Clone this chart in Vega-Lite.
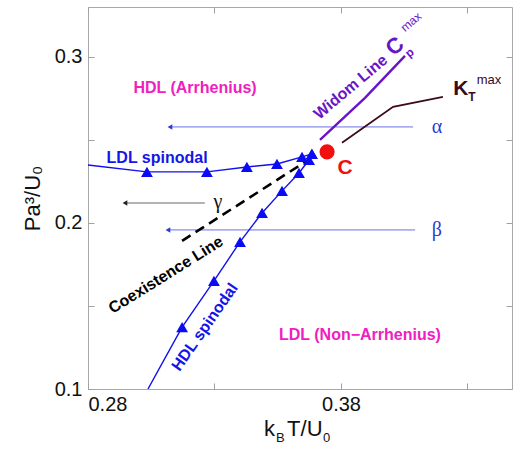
{
  "$schema": "https://vega.github.io/schema/vega-lite/v6.json",
  "width": 424,
  "height": 382,
  "autosize": {"type": "none"},
  "padding": {"left": 88, "top": 7, "right": 2, "bottom": 62},
  "background": "white",
  "config": {
    "view": {"stroke": "#a8a8a8", "strokeWidth": 1},
    "font": "Liberation Sans",
    "axis": {
      "domain": false,
      "grid": false,
      "tickColor": "#a0a0a0",
      "tickSize": -6,
      "tickWidth": 1,
      "labelFont": "Liberation Sans",
      "labelFontSize": 20,
      "labelColor": "#111111",
      "titleFont": "Liberation Sans",
      "titleFontSize": 22,
      "titleFontWeight": "normal",
      "titleColor": "#111111"
    }
  },
  "datasets": {
    "ldl": [
      {"x": 0.28, "y": 0.2349, "kind": "edge"},
      {"x": 0.3033, "y": 0.2307, "kind": "sim"},
      {"x": 0.327, "y": 0.2307, "kind": "sim"},
      {"x": 0.3428, "y": 0.2337, "kind": "sim"},
      {"x": 0.3547, "y": 0.2355, "kind": "sim"},
      {"x": 0.3646, "y": 0.2398, "kind": "sim"},
      {"x": 0.3685, "y": 0.2416, "kind": "sim"}
    ],
    "hdl": [
      {"x": 0.3037, "y": 0.1, "kind": "edge"},
      {"x": 0.3172, "y": 0.1373, "kind": "sim"},
      {"x": 0.3298, "y": 0.1651, "kind": "sim"},
      {"x": 0.3401, "y": 0.1886, "kind": "sim"},
      {"x": 0.3488, "y": 0.206, "kind": "sim"},
      {"x": 0.3567, "y": 0.2193, "kind": "sim"},
      {"x": 0.3634, "y": 0.2301, "kind": "sim"},
      {"x": 0.3674, "y": 0.238, "kind": "sim"},
      {"x": 0.3685, "y": 0.2416, "kind": "sim"}
    ],
    "coexistence": [
      {"x": 0.3172, "y": 0.1892},
      {"x": 0.3658, "y": 0.2367}
    ],
    "widom": [
      {"x": 0.3717, "y": 0.25},
      {"x": 0.3895, "y": 0.2753},
      {"x": 0.4053, "y": 0.3006}
    ],
    "ktmax": [
      {"x": 0.3804, "y": 0.2482},
      {"x": 0.4006, "y": 0.2699},
      {"x": 0.4203, "y": 0.2759}
    ],
    "critical": [
      {"x": 0.3745, "y": 0.2428}
    ],
    "paths": [
      {"path": "alpha", "x": 0.3124, "y": 0.2578, "head": true},
      {"path": "alpha", "x": 0.4085, "y": 0.2578, "head": false},
      {"path": "beta", "x": 0.3116, "y": 0.1958, "head": true},
      {"path": "beta", "x": 0.4093, "y": 0.1958, "head": false},
      {"path": "gamma", "x": 0.2946, "y": 0.212, "head": true},
      {"path": "gamma", "x": 0.3262, "y": 0.212, "head": false}
    ]
  },
  "encoding": {
    "x": {"field": "x", "type": "quantitative", "scale": {"domain": [0.28, 0.4476], "nice": false, "zero": false}, "axis": null},
    "y": {"field": "y", "type": "quantitative", "scale": {"domain": [0.1, 0.33], "nice": false, "zero": false}, "axis": null}
  },
  "resolve": {"axis": {"x": "independent", "y": "independent"}},
  "layer": [
    {
      "data": {"name": "paths"},
      "transform": [{"filter": "datum.path !== 'gamma'"}],
      "mark": {"type": "line", "color": "#a9aef2", "strokeWidth": 1.6},
      "encoding": {"detail": {"field": "path"}}
    },
    {
      "data": {"name": "paths"},
      "transform": [{"filter": "datum.path === 'gamma'"}],
      "mark": {"type": "line", "color": "#666666", "strokeWidth": 1.1},
      "encoding": {}
    },
    {
      "data": {"name": "paths"},
      "transform": [{"filter": "datum.head && datum.path !== 'gamma'"}],
      "mark": {"type": "point", "shape": "triangle-left", "filled": true, "size": 30, "color": "#2a3bd6", "opacity": 1}
    },
    {
      "data": {"name": "paths"},
      "transform": [{"filter": "datum.head && datum.path === 'gamma'"}],
      "mark": {"type": "point", "shape": "triangle-left", "filled": true, "size": 30, "color": "#222222", "opacity": 1}
    },
    {
      "data": {"name": "coexistence"},
      "mark": {"type": "line", "color": "#000000", "strokeWidth": 2.6, "strokeDash": [10, 6]},
      "encoding": {}
    },
    {
      "data": {"name": "ldl"},
      "mark": {"type": "line", "color": "#1010f0", "strokeWidth": 1.4},
      "encoding": {
        "x": {"field": "x", "type": "quantitative", "scale": {"domain": [0.28, 0.4476], "nice": false, "zero": false},
          "axis": {"orient": "bottom", "title": null, "values": [0.28, 0.33, 0.38, 0.43], "format": ".2f", "labelPadding": 11,
            "labelExpr": "abs(datum.value - 0.33) < 0.001 || abs(datum.value - 0.43) < 0.001 ? '' : datum.label"}},
        "y": {"field": "y", "type": "quantitative", "scale": {"domain": [0.1, 0.33], "nice": false, "zero": false},
          "axis": {"orient": "left", "title": "Pa³/U₀", "titlePadding": 10, "values": [0.1, 0.15, 0.2, 0.25, 0.3], "format": ".1f", "labelPadding": 12,
            "labelExpr": "abs(datum.value - 0.15) < 0.001 || abs(datum.value - 0.25) < 0.001 ? '' : datum.label"}}
      }
    },
    {
      "data": {"name": "hdl"},
      "mark": {"type": "line", "color": "#1010f0", "strokeWidth": 1.4, "clip": true},
      "encoding": {}
    },
    {
      "data": {"name": "ldl"},
      "transform": [{"filter": "datum.kind === 'sim'"}],
      "mark": {"type": "point", "shape": "triangle-up", "filled": true, "size": 140, "color": "#0a0af5", "opacity": 1}
    },
    {
      "data": {"name": "hdl"},
      "transform": [{"filter": "datum.kind === 'sim'"}],
      "mark": {"type": "point", "shape": "triangle-up", "filled": true, "size": 140, "color": "#0a0af5", "opacity": 1}
    },
    {
      "data": {"name": "widom"},
      "mark": {"type": "line", "color": "#6a14c8", "strokeWidth": 2.4},
      "encoding": {}
    },
    {
      "data": {"name": "ktmax"},
      "mark": {"type": "line", "color": "#3a0a1e", "strokeWidth": 1.8},
      "encoding": {}
    },
    {
      "data": {"name": "critical"},
      "mark": {"type": "point", "shape": "circle", "filled": true, "size": 230, "color": "#f01010", "opacity": 1},
      "encoding": {
        "x": {"field": "x", "type": "quantitative", "scale": {"domain": [0.28, 0.4476], "nice": false, "zero": false},
          "axis": {"orient": "top", "title": null, "labels": false, "values": [0.28, 0.33, 0.38, 0.43]}},
        "y": {"field": "y", "type": "quantitative", "scale": {"domain": [0.1, 0.33], "nice": false, "zero": false},
          "axis": {"orient": "right", "title": null, "labels": false, "values": [0.1, 0.15, 0.2, 0.25, 0.3]}}
      }
    },
    {
      "data": {"values": [
        {"label": "HDL (Arrhenius)", "x": 0.3223, "y": 0.2813},
        {"label": "LDL (Non−Arrhenius)", "x": 0.3875, "y": 0.1325}
      ]},
      "mark": {"type": "text", "font": "Liberation Sans", "fontSize": 16, "fontWeight": "bold", "color": "#f020c0", "align": "center", "baseline": "middle"},
      "encoding": {"text": {"field": "label"}}
    },
    {
      "data": {"values": [{"label": "LDL spinodal", "x": 0.3073, "y": 0.2392}]},
      "mark": {"type": "text", "font": "Liberation Sans", "fontSize": 16, "fontWeight": "bold", "color": "#1515e6", "align": "center", "baseline": "middle"},
      "encoding": {"text": {"field": "label"}}
    },
    {
      "data": {"values": [{"label": "HDL spinodal", "x": 0.3262, "y": 0.1373}]},
      "mark": {"type": "text", "font": "Liberation Sans", "fontSize": 16, "fontWeight": "bold", "color": "#1515e6", "align": "center", "baseline": "middle", "angle": 305},
      "encoding": {"text": {"field": "label"}}
    },
    {
      "data": {"values": [{"label": "Coexistence Line", "x": 0.3108, "y": 0.1687}]},
      "mark": {"type": "text", "font": "Liberation Sans", "fontSize": 16, "fontWeight": "bold", "color": "#000000", "align": "center", "baseline": "middle", "angle": 328},
      "encoding": {"text": {"field": "label"}}
    },
    {
      "data": {"values": [{"label": "Widom Line", "x": 0.3838, "y": 0.2818}]},
      "mark": {"type": "text", "font": "Liberation Sans", "fontSize": 16, "fontWeight": "bold", "color": "#6a14c8", "align": "center", "baseline": "middle", "angle": 320},
      "encoding": {"text": {"field": "label"}}
    },
    {
      "data": {"values": [{"label": "C", "x": 0.4013, "y": 0.3064}]},
      "mark": {"type": "text", "font": "Liberation Sans", "fontSize": 22, "fontWeight": "bold", "color": "#6a14c8", "align": "center", "baseline": "middle", "angle": 320},
      "encoding": {"text": {"field": "label"}}
    },
    {
      "data": {"values": [{"label": "p", "x": 0.4071, "y": 0.3026}]},
      "mark": {"type": "text", "font": "Liberation Sans", "fontSize": 12, "fontWeight": "bold", "color": "#6a14c8", "align": "center", "baseline": "middle", "angle": 320},
      "encoding": {"text": {"field": "label"}}
    },
    {
      "data": {"values": [{"label": "max", "x": 0.4077, "y": 0.3211}]},
      "mark": {"type": "text", "font": "Liberation Sans", "fontSize": 12, "color": "#6a14c8", "align": "center", "baseline": "middle", "angle": 320},
      "encoding": {"text": {"field": "label"}}
    },
    {
      "data": {"values": [{"label": "K", "x": 0.4274, "y": 0.2807}]},
      "mark": {"type": "text", "font": "Liberation Sans", "fontSize": 21, "fontWeight": "bold", "color": "#3a0a1e", "align": "center", "baseline": "middle"},
      "encoding": {"text": {"field": "label"}}
    },
    {
      "data": {"values": [{"label": "T", "x": 0.4318, "y": 0.2759}]},
      "mark": {"type": "text", "font": "Liberation Sans", "fontSize": 12, "fontWeight": "bold", "color": "#3a0a1e", "align": "center", "baseline": "middle"},
      "encoding": {"text": {"field": "label"}}
    },
    {
      "data": {"values": [{"label": "max", "x": 0.4385, "y": 0.2861}]},
      "mark": {"type": "text", "font": "Liberation Sans", "fontSize": 13, "color": "#3a0a1e", "align": "center", "baseline": "middle"},
      "encoding": {"text": {"field": "label"}}
    },
    {
      "data": {"values": [{"label": "C", "x": 0.3816, "y": 0.2331}]},
      "mark": {"type": "text", "font": "Liberation Sans", "fontSize": 21, "fontWeight": "bold", "color": "#f01010", "align": "center", "baseline": "middle"},
      "encoding": {"text": {"field": "label"}}
    },
    {
      "data": {"values": [
        {"label": "α", "x": 0.4179, "y": 0.2578},
        {"label": "β", "x": 0.4179, "y": 0.1958}
      ]},
      "mark": {"type": "text", "font": "Liberation Serif", "fontSize": 20, "color": "#2a3bd6", "align": "center", "baseline": "middle"},
      "encoding": {"text": {"field": "label"}}
    },
    {
      "data": {"values": [{"label": "γ", "x": 0.3314, "y": 0.2127}]},
      "mark": {"type": "text", "font": "Liberation Serif", "fontSize": 20, "color": "#111111", "align": "center", "baseline": "middle"},
      "encoding": {"text": {"field": "label"}}
    },
    {
      "data": {"values": [
        {"label": "k", "x": 0.3496, "y": 0.0759},
        {"label": "T/U", "x": 0.3587, "y": 0.0759}
      ]},
      "mark": {"type": "text", "font": "Liberation Sans", "fontSize": 22, "color": "#111111", "align": "left", "baseline": "middle"},
      "encoding": {"text": {"field": "label"}}
    },
    {
      "data": {"values": [
        {"label": "B", "x": 0.3543, "y": 0.0705},
        {"label": "0", "x": 0.3729, "y": 0.0705}
      ]},
      "mark": {"type": "text", "font": "Liberation Sans", "fontSize": 13, "color": "#111111", "align": "left", "baseline": "middle"},
      "encoding": {"text": {"field": "label"}}
    }
  ]
}
